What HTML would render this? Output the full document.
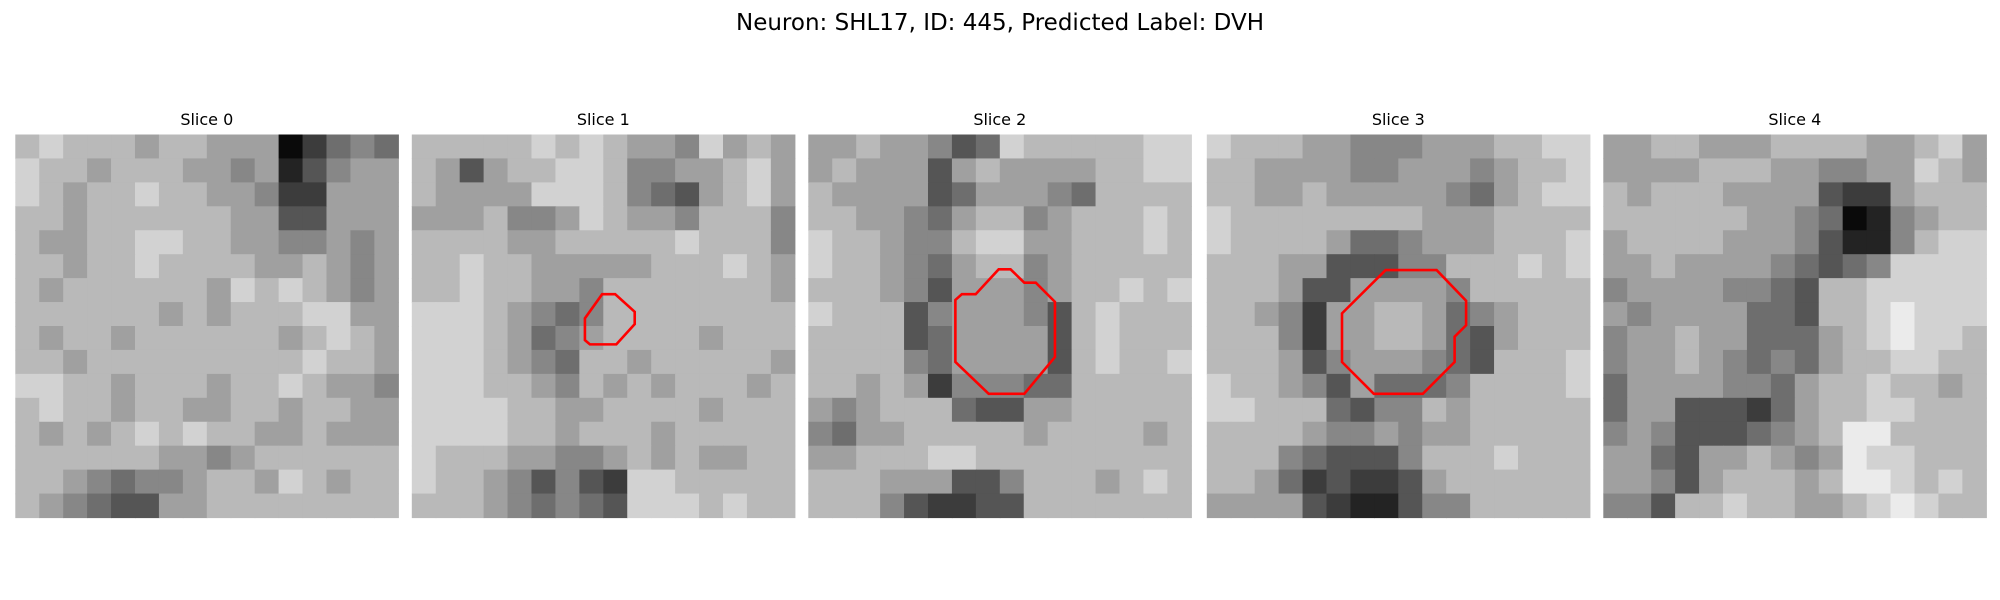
<!DOCTYPE html>
<html><head><meta charset="utf-8">
<style>
html,body{margin:0;padding:0;background:#fff;width:2000px;height:600px;overflow:hidden}
svg text{font-family:"DejaVu Sans","Liberation Sans",sans-serif;fill:#000}
</style></head>
<body>
<svg id="fig" width="2000" height="600" viewBox="0 0 2000 600" xmlns="http://www.w3.org/2000/svg">
<text x="1000" y="30" font-size="23" text-anchor="middle">Neuron: SHL17, ID: 445, Predicted Label: DVH</text>
</svg>
<script>
const sliceTitles=["Slice 0","Slice 1","Slice 2","Slice 3","Slice 4"];
const slice0=["7877767766602454","8776777665613566","8767787766522666","7767777776633666","7667788776655656","7767787777667656","7677777768787656","7777776767778866","7677677777767876","7767777777778776","8877677767787665","7877677667767766","7676787877667666","7777776656777777","7765455677687677","7654336677777777"];
const slice1=["7777787876658676","7636778875566786","7666688875436786","6667556876657775","7777667777787775","7787766666777876","7787766577777776","8887654577777777","8887645677776777","8887654776777776","8887765767677767","8888776677776777","8888776777677777","8777665567676677","8776535328877777","7776545438887877"];
const slice2=["6676653487777788","6766636766667788","7666634666547777","7766546775677787","8776557886677787","8776546775677777","7776536665677878","8777356665378777","7777346666378777","7777546666378778","7767625554477777","6567774336677777","5466777776777767","6677788777777777","7776663357776787","7775322337777777"];
const slice3=["8777665556667788","7766665566656778","7766766666546788","8777777776667777","8777764456667778","7776633355777878","7776336666577777","7765266776456777","7775266776436777","7776356665437778","8776536444577778","8877743557677777","7777655656677777","7775433357778777","7764232236777777","6666321135577777"];
const slice4=["6677666777766786","6666777665566876","7677766663226777","7777776654015677","6777766653115788","6676666543458888","5666655437788888","6566664437789888","5667664446789887","5667654546778877","4666655467787767","4663332467788777","5653334567997777","6643667656988777","6653677767998787","5537787766789877"];
const contour1=[[0.497,0.417],[0.531,0.417],[0.582,0.463],[0.582,0.495],[0.534,0.548],[0.465,0.548],[0.452,0.537],[0.452,0.480]];
const contour2=[[0.497,0.352],[0.528,0.352],[0.564,0.387],[0.594,0.387],[0.644,0.437],[0.644,0.581],[0.564,0.677],[0.471,0.677],[0.384,0.594],[0.384,0.432],[0.401,0.417],[0.437,0.417]];
const contour3=[[0.467,0.354],[0.600,0.354],[0.677,0.434],[0.677,0.498],[0.647,0.528],[0.647,0.594],[0.564,0.677],[0.436,0.677],[0.353,0.594],[0.353,0.467]];

const slices=[slice0,slice1,slice2,slice3,slice4];
const contours=[null,contour1,contour2,contour3,null];
const NS="http://www.w3.org/2000/svg";
const svg=document.getElementById('fig');
const panelX=[15.3,411.8,808.3,1206.8,1603.3], panelY=134.5, panelW=383, panelH=383;
function gray(d){const g=Math.min(250,Math.round(10+d*25));return `rgb(${g},${g},${g})`;}
slices.forEach((rows,p)=>{
  const g=document.createElementNS(NS,'g');
  
  
  svg.appendChild(g);
  const t=document.createElementNS(NS,'text');
  
  
  t.setAttribute('x',panelX[p]+panelW/2);t.setAttribute('y',125);
  t.setAttribute('font-size','16');t.setAttribute('text-anchor','middle');
  t.textContent=sliceTitles[p];g.appendChild(t);
  const n=rows.length, cw=panelW/rows[0].length, ch=panelH/n;
  rows.forEach((row,r)=>{
    for(let c=0;c<row.length;c++){
      const rc=document.createElementNS(NS,'rect');
      
      
      rc.setAttribute('x',panelX[p]+c*cw);rc.setAttribute('y',panelY+r*ch);
      rc.setAttribute('width',cw+0.6);rc.setAttribute('height',ch+0.6);
      rc.setAttribute('fill',gray(+row[c]));
      g.appendChild(rc);
    }
  });
  const ct=contours[p];
  if(ct){
    const pl=document.createElementNS(NS,'polygon');
    
    
    pl.setAttribute('points',ct.map(q=>(panelX[p]+q[0]*panelW)+','+(panelY+q[1]*panelH)).join(' '));
    pl.setAttribute('fill','none');pl.setAttribute('stroke','#ff0000');pl.setAttribute('stroke-width','2.6');
    g.appendChild(pl);
  }
});
</script>
</body></html>
